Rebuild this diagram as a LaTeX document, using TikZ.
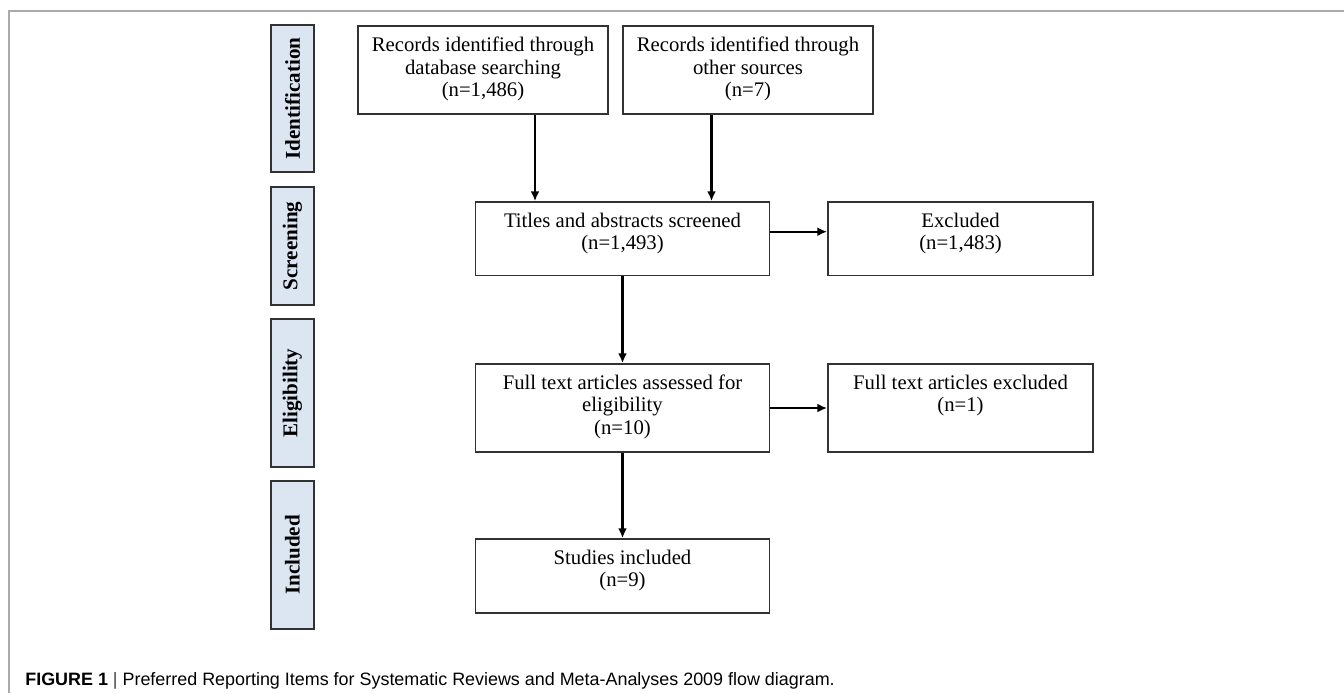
\documentclass[tikz,border=0pt]{standalone}
\usepackage{fontspec}
\setmainfont{Liberation Serif}
\setsansfont{Liberation Sans}
\usetikzlibrary{arrows.meta}

\definecolor{phasefill}{RGB}{220,230,242}
\definecolor{boxline}{RGB}{50,50,50}
\definecolor{framegray}{RGB}{170,170,170}
\newlength{\px}
\setlength{\px}{0.02cm}

\begin{document}
\begin{tikzpicture}[x=0.02cm, y=-0.02cm]
\tikzset{
  box/.style={draw=boxline, line width=1pt, fill=white, align=center, inner sep=0pt,
    font=\fontsize{11.8}{12.8}\selectfont},
  phase/.style={draw=boxline, line width=1.1pt, fill=phasefill, rotate=90, inner sep=0pt,
    minimum height=43\px, font=\fontsize{12}{13}\selectfont\bfseries},
  arr/.style={line width=1.3pt, -{Latex[length=5.5pt, width=5pt]}}
}
\useasboundingbox (0,0) rectangle (1344,693);

% frame round the figure
\draw [framegray, line width=1.1pt] (9,693) -- (9,11) -- (1344,11);

% phases
\node [phase, minimum width=147\px] (idbar) at (292.5,98.5) {Identification};
\node [phase, minimum width=118\px] (scrbar) at (292.5,246) {Screening};
\node [phase, minimum width=148\px] (eligbar) at (292.5,393) {Eligibility};
\node [phase, minimum width=148\px] (inclbar) at (292.5,555) {Included};

% identification
\node [box, minimum width=250\px, minimum height=88.3\px, text depth=3.2pt] (dbrec) at (483,69.85)
  {Records identified through\\database searching\\(n=1,486)};
\node [box, minimum width=250\px, minimum height=88.3\px, text depth=3.2pt] (otherrec) at (748,69.85)
  {Records identified through\\other sources\\(n=7)};

% screening
\node [box, minimum width=294\px, minimum height=73.5\px, text depth=8.7pt] (screened) at (622.5,238.75)
  {Titles and abstracts screened\\(n=1,493)};
\node [box, minimum width=265\px, minimum height=73.5\px, text depth=8.7pt] (excl) at (960.5,238.75)
  {Excluded\\(n=1,483)};

% eligibility
\node [box, minimum width=294\px, minimum height=88\px, text depth=4.1pt] (fulltext) at (622.5,408)
  {Full text articles assessed for\\eligibility\\(n=10)};
\node [box, minimum width=265\px, minimum height=88\px, text depth=16.9pt] (fullexcl) at (960.5,408)
  {Full text articles excluded\\(n=1)};

% included
\node [box, minimum width=294\px, minimum height=74\px, text depth=9pt] (studies) at (622.5,576)
  {Studies included\\(n=9)};

% connectors
\coordinate (leftdrop) at (535,0);
\coordinate (rightdrop) at (711.5,0);
\coordinate (exclrow) at (0,231.7);

\draw [arr] (dbrec.south -| leftdrop) -- (screened.north -| leftdrop);
\draw [arr] (otherrec.south -| rightdrop) -- (screened.north -| rightdrop);
\draw [arr] (screened.east |- exclrow) -- (excl.west |- exclrow);
\draw [arr] (screened.south) -- (fulltext.north);
\draw [arr] (fulltext.east) -- (fullexcl.west);
\draw [arr] (fulltext.south) -- (studies.north);

% caption
\node [anchor=base west, inner sep=0pt, font=\sffamily\fontsize{10.2}{12}\selectfont] (caption) at (25,685)
  {\textbf{FIGURE 1} {\color{darkgray}|} Preferred Reporting Items for Systematic Reviews and Meta-Analyses 2009 flow diagram.};

\end{tikzpicture}
\end{document}
